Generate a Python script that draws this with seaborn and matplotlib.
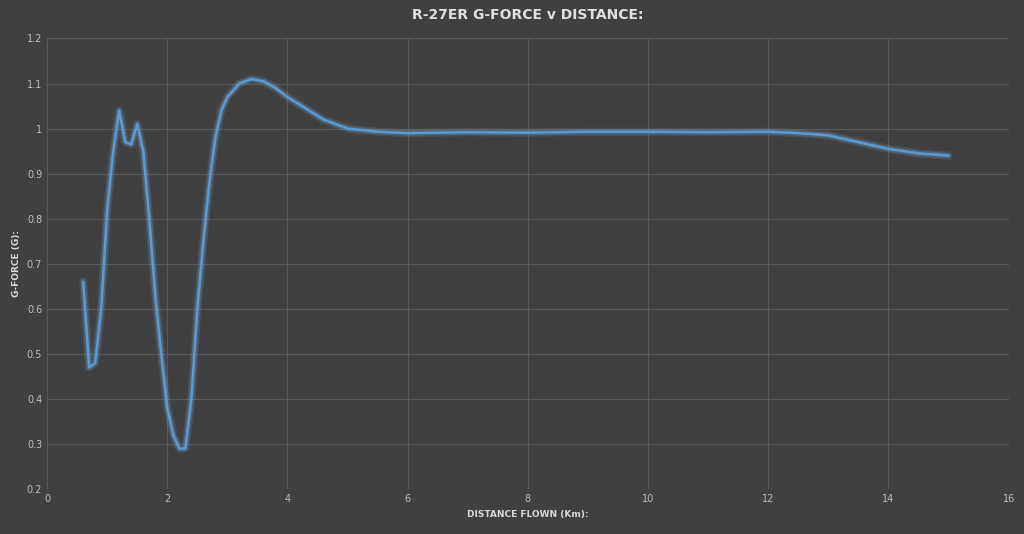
import matplotlib
matplotlib.use("Agg")
import matplotlib.pyplot as plt
import seaborn as sns
import pandas as pd

distance = [0.6,0.7,0.8,0.9,1.0,1.1,1.2,1.3,1.4,1.5,1.6,1.7,1.8,1.9,2.0,2.1,2.2,2.3,2.4,2.5,2.6,2.7,2.8,2.9,3.0,3.2,3.4,3.6,3.8,4.0,4.3,4.6,5.0,5.5,6.0,7.0,8.0,9.0,10.0,11.0,12.0,12.5,13.0,13.5,14.0,14.5,15.0]
gforce = [0.66,0.47,0.48,0.6,0.82,0.95,1.04,0.97,0.965,1.01,0.95,0.8,0.63,0.5,0.38,0.32,0.29,0.29,0.4,0.6,0.75,0.88,0.98,1.04,1.07,1.1,1.11,1.105,1.09,1.07,1.045,1.02,1.0,0.993,0.99,0.992,0.991,0.993,0.993,0.992,0.993,0.99,0.985,0.97,0.955,0.945,0.94]
df = pd.DataFrame({"d": distance, "g": gforce})

bg = "#404040"
sns.set_theme(style="dark")
fig, ax = plt.subplots(figsize=(10.24, 5.34), dpi=100)
fig.patch.set_facecolor(bg)
ax.set_facecolor(bg)
fig.subplots_adjust(left=0.046, right=0.985, top=0.928, bottom=0.084)

for lw, a in [(6, 0.12), (4, 0.2)]:
    sns.lineplot(data=df, x="d", y="g", ax=ax, color="#7fb8f0", lw=lw, alpha=a)
sns.lineplot(data=df, x="d", y="g", ax=ax, color="#5b9bd5", lw=1.8)

ax.set_xlim(0, 16)
ax.set_ylim(0.2, 1.2)
ax.set_xticks(range(0, 17, 2))
ax.set_yticks([0.2,0.3,0.4,0.5,0.6,0.7,0.8,0.9,1.0,1.1,1.2])
ax.set_yticklabels(["0.2","0.3","0.4","0.5","0.6","0.7","0.8","0.9","1","1.1","1.2"])
ax.grid(True, color="#595959", lw=0.8)
for s in ax.spines.values():
    s.set_visible(False)
ax.tick_params(colors="#bfbfbf", labelsize=7, length=0)
ax.set_xlabel("DISTANCE FLOWN (Km):", color="#d9d9d9", fontsize=6.5, fontweight="bold")
ax.set_ylabel("G-FORCE (G):", color="#d9d9d9", fontsize=6.5, fontweight="bold")
ax.set_title("R-27ER G-FORCE v DISTANCE:", color="#e0e0e0", fontsize=10, fontweight="bold", pad=14)
fig.savefig("out.png", facecolor=bg)
